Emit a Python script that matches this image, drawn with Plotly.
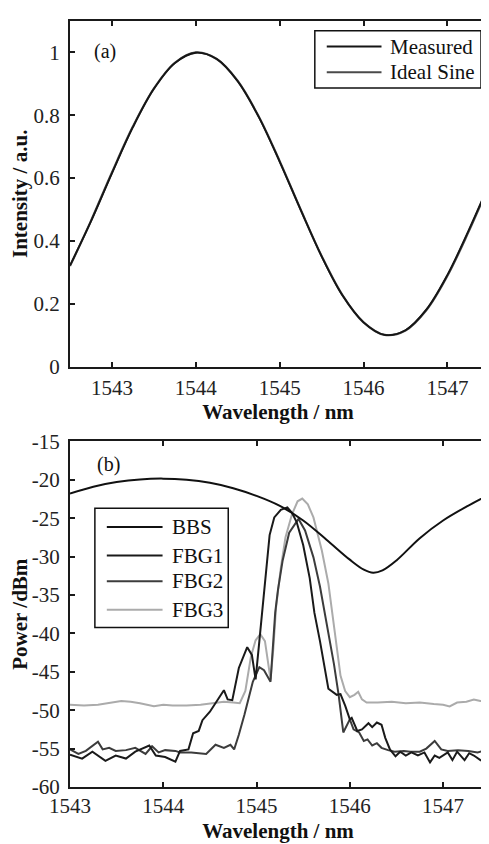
import plotly.graph_objects as go

# ---------------- Panel (a) data ----------------
wl_a = [1542.50, 1542.75, 1543.00, 1543.25, 1543.50, 1543.75, 1544.00, 1544.25,
        1544.50, 1544.75, 1545.00, 1545.25, 1545.50, 1545.75, 1546.00, 1546.25,
        1546.50, 1546.75, 1547.00, 1547.25, 1547.50]
measured = [0.322, 0.462, 0.615, 0.762, 0.884, 0.966, 0.999, 0.979,
            0.908, 0.795, 0.652, 0.499, 0.351, 0.226, 0.141, 0.101,
            0.116, 0.182, 0.292, 0.432, 0.583]
ideal_sine = [0.320, 0.464, 0.618, 0.764, 0.885, 0.967, 1.000, 0.979,
              0.909, 0.796, 0.654, 0.500, 0.352, 0.227, 0.141, 0.101,
              0.115, 0.180, 0.289, 0.428, 0.580]

# ---------------- Panel (b) data ----------------
wl_bbs = [1543.00, 1543.25, 1543.50, 1543.75, 1544.00, 1544.25, 1544.50, 1544.75,
          1545.00, 1545.25, 1545.50, 1545.75, 1546.00, 1546.15, 1546.25, 1546.35,
          1546.50, 1546.75, 1547.00, 1547.25, 1547.50]
bbs = [-21.8, -20.9, -20.3, -19.95, -19.85, -20.0, -20.4, -21.1,
       -22.1, -23.4, -25.3, -27.8, -30.4, -31.7, -32.1, -31.8,
       -30.5, -27.6, -25.3, -23.5, -21.9]

wl_fbg1 = [1543.00, 1543.13, 1543.24, 1543.38, 1543.49, 1543.60, 1543.70, 1543.85,
           1543.92, 1544.02, 1544.13, 1544.18, 1544.27, 1544.32, 1544.38, 1544.42,
           1544.50, 1544.60, 1544.65, 1544.69, 1544.74, 1544.81, 1544.90, 1544.95,
           1544.99, 1545.03, 1545.06, 1545.10, 1545.14, 1545.19, 1545.26, 1545.33,
           1545.38, 1545.43, 1545.50, 1545.57, 1545.62, 1545.68, 1545.73, 1545.77,
           1545.86, 1545.90, 1545.95, 1546.00, 1546.02, 1546.08, 1546.13, 1546.20,
           1546.24, 1546.29, 1546.34, 1546.38, 1546.43, 1546.49, 1546.54, 1546.60,
           1546.66, 1546.73, 1546.80, 1546.86, 1546.91, 1546.96, 1547.05, 1547.10,
           1547.15, 1547.23, 1547.28, 1547.33, 1547.40, 1547.46]
fbg1 = [-55.8, -56.3, -55.4, -56.6, -55.9, -56.3, -55.4, -54.6,
        -55.9, -56.1, -56.7, -55.3, -55.1, -53.0, -52.7, -51.3,
        -50.2, -48.4, -47.4, -48.6, -48.7, -44.5, -41.8, -42.8,
        -46.0, -41.0, -37.3, -31.5, -27.2, -24.9, -23.9, -23.6,
        -24.3, -25.5, -28.5, -32.8, -37.3, -41.0, -44.5, -47.2,
        -48.0, -47.9, -49.4, -51.2, -51.0, -52.7, -52.5, -51.7,
        -52.2, -51.6, -51.9, -53.6, -55.1, -56.0, -55.4, -55.9,
        -55.5, -55.9, -55.5, -56.8, -55.9, -56.2, -55.5, -56.5,
        -55.4, -56.5, -55.6, -55.9, -56.5, -56.8]

wl_fbg2 = [1543.00, 1543.09, 1543.17, 1543.30, 1543.35, 1543.42, 1543.49, 1543.60,
           1543.70, 1543.81, 1543.88, 1543.95, 1544.02, 1544.13, 1544.18, 1544.30,
           1544.46, 1544.56, 1544.65, 1544.72, 1544.76, 1544.81, 1544.87, 1544.96,
           1545.03, 1545.08, 1545.15, 1545.18, 1545.20, 1545.23, 1545.28, 1545.35,
           1545.45, 1545.52, 1545.61, 1545.68, 1545.73, 1545.78, 1545.83, 1545.88,
           1545.93, 1546.00, 1546.04, 1546.10, 1546.15, 1546.19, 1546.24, 1546.29,
           1546.34, 1546.41, 1546.48, 1546.58, 1546.65, 1546.75, 1546.82, 1546.91,
           1546.98, 1547.05, 1547.16, 1547.27, 1547.37, 1547.46]
fbg2 = [-55.1, -55.7, -55.3, -54.1, -55.1, -54.9, -55.3, -55.2,
        -54.9, -55.7, -54.7, -55.5, -55.2, -55.3, -55.5, -55.5,
        -55.7, -54.5, -54.9, -54.5, -55.1, -53.2, -50.6, -46.3,
        -44.4, -44.8, -46.3, -41.0, -37.3, -34.3, -30.5, -26.9,
        -25.1, -26.6, -30.1, -33.9, -37.3, -41.0, -44.0, -48.0,
        -52.9, -51.2, -52.5, -52.9, -54.0, -53.8, -54.6, -54.3,
        -54.9, -55.2, -55.4, -55.3, -55.4, -55.4, -55.0, -54.0,
        -55.1, -55.3, -55.2, -55.3, -55.5, -55.2]

wl_fbg3 = [1543.00, 1543.15, 1543.30, 1543.45, 1543.55, 1543.65, 1543.75, 1543.90,
           1544.00, 1544.10, 1544.25, 1544.40, 1544.55, 1544.65, 1544.75, 1544.82,
           1544.88, 1544.94, 1544.99, 1545.04, 1545.09, 1545.12, 1545.15, 1545.18,
           1545.21, 1545.26, 1545.31, 1545.38, 1545.44, 1545.49, 1545.55, 1545.61,
           1545.70, 1545.77, 1545.81, 1545.86, 1545.90, 1545.95, 1546.00, 1546.05,
           1546.09, 1546.13, 1546.18, 1546.30, 1546.45, 1546.60, 1546.75, 1546.90,
           1547.00, 1547.07, 1547.15, 1547.25, 1547.33, 1547.40, 1547.48]
fbg3 = [-49.3, -49.4, -49.3, -49.0, -48.8, -48.9, -49.1, -49.5,
        -49.3, -49.4, -49.4, -49.3, -49.1, -48.9, -49.0, -49.1,
        -47.5, -43.0, -40.9, -40.1, -41.0, -43.5, -46.0, -42.0,
        -36.5, -31.5, -27.5, -24.5, -22.8, -22.45, -23.2, -24.9,
        -29.2, -33.5, -37.3, -42.0, -45.5, -47.5, -48.3, -48.0,
        -47.6, -48.6, -49.0, -49.0, -48.9, -49.1, -49.0, -49.2,
        -49.3, -49.5, -49.0, -48.9, -48.6, -48.8, -49.0]

# tick labels
xticks = [1543, 1544, 1545, 1546, 1547]
xtick_text = ["1543", "1544", "1545", "1546", "1547"]
yticks_a = [0, 0.2, 0.4, 0.6, 0.8, 1]
ytick_text_a = ["0", "0.2", "0.4", "0.6", "0.8", "1"]
yticks_b = [-60, -55, -50, -45, -40, -35, -30, -25, -20, -15]
ytick_text_b = ["-60", "-55", "-50", "-45", "-40", "-35", "-30", "-25", "-20", "-15"]

legend_a = ["Measured", "Ideal Sine"]
legend_b = ["BBS", "FBG1", "FBG2", "FBG3"]

FONT = "Liberation Serif, Times New Roman, serif"
C_MEAS = "#151515"
C_IDEAL = "#4a4a4a"
C_BBS = "#111111"
C_F1 = "#1a1a1a"
C_F2 = "#3c3c3c"
C_F3 = "#ababab"

fig = go.Figure()

fig.add_trace(go.Scatter(x=wl_a, y=ideal_sine, mode="lines", name=legend_a[1],
                         line=dict(color=C_IDEAL, width=2.2, shape="spline"),
                         xaxis="x", yaxis="y", showlegend=False))
fig.add_trace(go.Scatter(x=wl_a, y=measured, mode="lines", name=legend_a[0],
                         line=dict(color=C_MEAS, width=1.8, shape="spline"),
                         xaxis="x", yaxis="y", showlegend=False))

fig.add_trace(go.Scatter(x=wl_fbg3, y=fbg3, mode="lines", name=legend_b[3],
                         line=dict(color=C_F3, width=2), xaxis="x2", yaxis="y2",
                         showlegend=False))
fig.add_trace(go.Scatter(x=wl_fbg2, y=fbg2, mode="lines", name=legend_b[2],
                         line=dict(color=C_F2, width=2), xaxis="x2", yaxis="y2",
                         showlegend=False))
fig.add_trace(go.Scatter(x=wl_fbg1, y=fbg1, mode="lines", name=legend_b[1],
                         line=dict(color=C_F1, width=2), xaxis="x2", yaxis="y2",
                         showlegend=False))
fig.add_trace(go.Scatter(x=wl_bbs, y=bbs, mode="lines", name=legend_b[0],
                         line=dict(color=C_BBS, width=2, shape="spline"),
                         xaxis="x2", yaxis="y2", showlegend=False))

axis_common = dict(showline=True, linecolor="#1a1a1a", linewidth=2, mirror="ticks",
                   ticks="inside", ticklen=5, tickwidth=1.5, tickcolor="#1a1a1a",
                   showgrid=False, zeroline=False,
                   tickfont=dict(family=FONT, size=21, color="#222"))

title_font = dict(family=FONT, size=21, color="#111", weight="bold")

# The page body adds an 8px offset, so the figure is 8px smaller than the window
fig.update_layout(
    width=481, height=836,
    margin=dict(l=62, r=1, t=1, b=57),
    paper_bgcolor="white", plot_bgcolor="white",
    showlegend=False,
    xaxis=dict(domain=[0, 1], anchor="y", range=[1542.5, 1547.46],
               tickvals=xticks, ticktext=xtick_text, ticklabelstandoff=1,
               title=dict(text="Wavelength / nm", font=title_font, standoff=4),
               **axis_common),
    yaxis=dict(domain=[0.5488, 1], anchor="x", range=[0, 1.1],
               tickvals=yticks_a, ticktext=ytick_text_a, ticklabelstandoff=4,
               title=dict(text="Intensity / a.u.", font=title_font, standoff=6),
               **axis_common),
    xaxis2=dict(domain=[0, 1], anchor="y2", range=[1543, 1547.46],
                tickvals=xticks, ticktext=xtick_text, ticklabelstandoff=-1,
                title=dict(text="Wavelength / nm", font=title_font, standoff=6),
                **axis_common),
    yaxis2=dict(domain=[0, 0.4512], anchor="x2", range=[-60, -15],
                tickvals=yticks_b, ticktext=ytick_text_b, ticklabelstandoff=4,
                title=dict(text="Power /dBm", font=title_font, standoff=6),
                **axis_common),
)

shapes = []
annotations = []

# panel labels
annotations.append(dict(text="(a)", xref="x domain", yref="y domain", x=0.0837, y=0.912,
                        showarrow=False, font=dict(family=FONT, size=20, color="#111"),
                        xanchor="center", yanchor="middle"))
annotations.append(dict(text="(b)", xref="x2 domain", yref="y2 domain", x=0.0933, y=0.932,
                        showarrow=False, font=dict(family=FONT, size=20, color="#111"),
                        xanchor="center", yanchor="middle"))

# legend (a)
shapes.append(dict(type="rect", xref="x domain", yref="y domain", x0=0.5885, x1=0.988,
                   y0=0.8063, y1=0.9715, line=dict(color="#111", width=1.5),
                   fillcolor="white", layer="above"))
for name, col, yy in zip(legend_a, [C_MEAS, C_IDEAL], [0.9259, 0.8519]):
    shapes.append(dict(type="line", xref="x domain", yref="y domain", x0=0.6172, x1=0.7488,
                       y0=yy, y1=yy, line=dict(color=col, width=2), layer="above"))
    annotations.append(dict(text=name, xref="x domain", yref="y domain", x=0.7656, y=yy,
                            showarrow=False, xanchor="left", yanchor="middle",
                            font=dict(family=FONT, size=21, color="#111")))

# legend (b)
shapes.append(dict(type="rect", xref="x2 domain", yref="y2 domain", x0=0.0598, x1=0.3804,
                   y0=0.4615, y1=0.8063, line=dict(color="#111", width=1.5),
                   fillcolor="white", layer="above"))
for name, col, yy in zip(legend_b, [C_BBS, C_F1, C_F2, C_F3], [0.7521, 0.6695, 0.5954, 0.5128]):
    shapes.append(dict(type="line", xref="x2 domain", yref="y2 domain", x0=0.0885, x1=0.2225,
                       y0=yy, y1=yy, line=dict(color=col, width=2), layer="above"))
    annotations.append(dict(text=name, xref="x2 domain", yref="y2 domain", x=0.2392, y=yy,
                            showarrow=False, xanchor="left", yanchor="middle",
                            font=dict(family=FONT, size=21, color="#111")))

fig.update_layout(shapes=shapes, annotations=annotations)

fig.write_html("out.html")
